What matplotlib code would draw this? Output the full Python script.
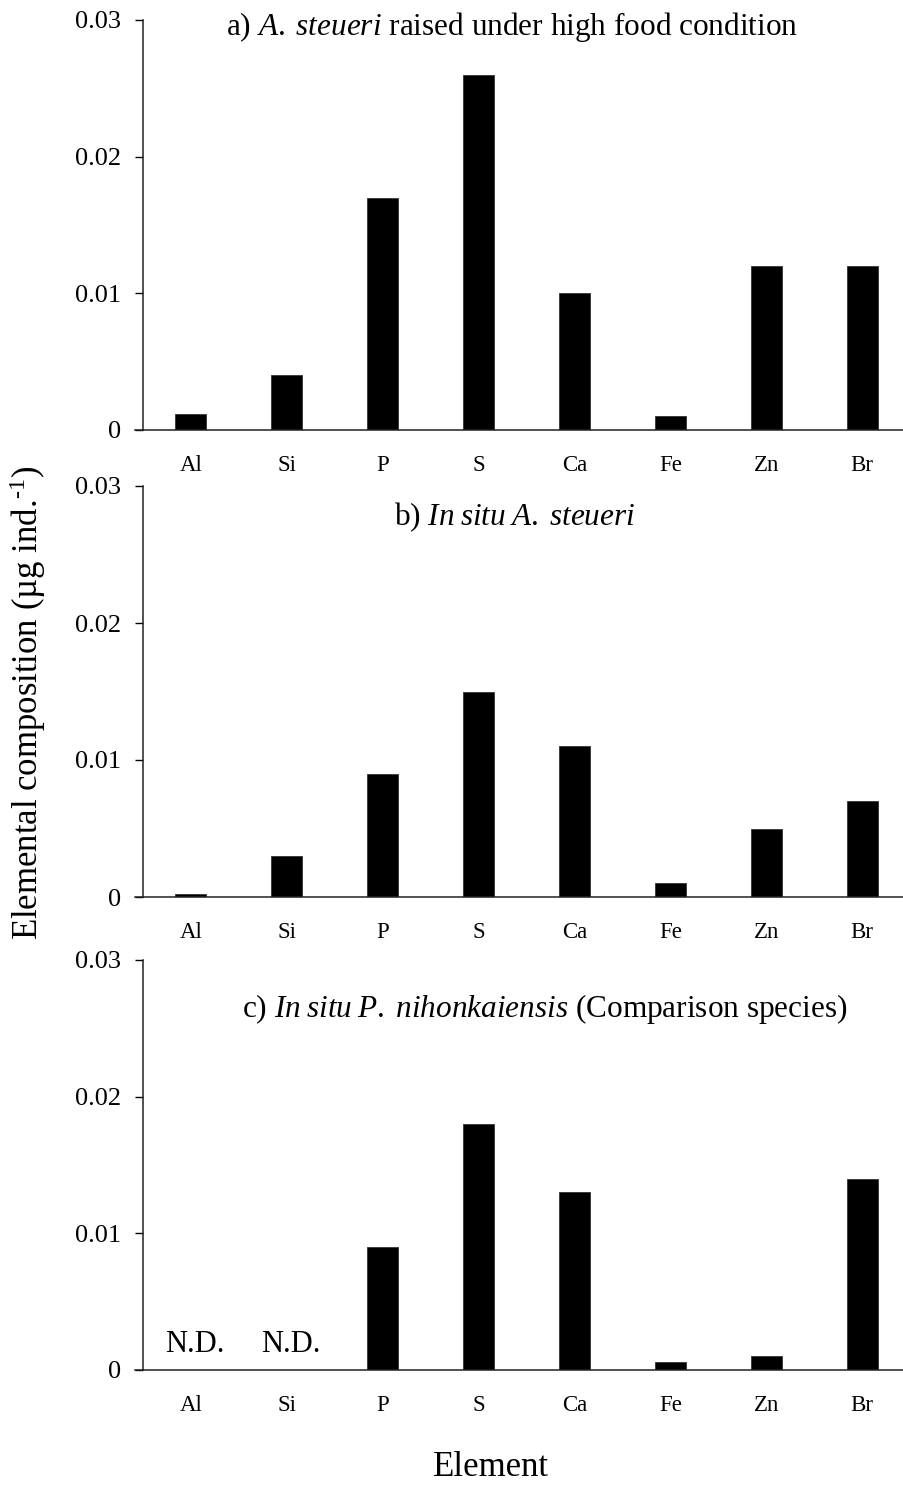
import matplotlib
matplotlib.use("Agg")
import matplotlib.pyplot as plt
import numpy as np

plt.rcParams['font.family'] = ['Liberation Serif', 'DejaVu Serif']
plt.rcParams['mathtext.fontset'] = 'custom'
plt.rcParams['mathtext.rm'] = 'Liberation Serif'
plt.rcParams['mathtext.it'] = 'Liberation Serif:italic'

elements = ["Al", "Si", "P", "S", "Ca", "Fe", "Zn", "Br"]
high_food = [0.0012, 0.004, 0.017, 0.026, 0.010, 0.001, 0.012, 0.012]
in_situ_steueri = [0.0002, 0.003, 0.009, 0.015, 0.011, 0.001, 0.005, 0.007]
in_situ_nihonkaiensis = [0.0, 0.0, 0.009, 0.018, 0.013, 0.0006, 0.001, 0.014]
nd_labels = ["N.D.", "N.D.", "", "", "", "", "", ""]
yticks = [0, 0.01, 0.02, 0.03]
ytick_labels = ["0", "0.01", "0.02", "0.03"]

titles = [
    r"a) $\mathit{A.\;steueri}$ raised under high food condition",
    r"b) $\mathit{In\;situ\;A.\;steueri}$",
    r"c) $\mathit{In\;situ\;P.\;nihonkaiensis}$ (Comparison species)",
]
# (x, y, vertical alignment) in axes fraction
title_pos = [(0.481, 0.983, "center"), (0.485, 0.905, "baseline"), (0.524, 0.861, "baseline")]
series = [high_food, in_situ_steueri, in_situ_nihonkaiensis]

W, H = 904, 1485
fig = plt.figure(figsize=(W / 100, H / 100), dpi=100)

# axes boxes in pixels: left, right, top, bottom
boxes = [(143, 910, 20, 430), (143, 910, 486, 897), (143, 910, 960, 1370)]

x = np.arange(len(elements))
for i, (l, r, t, b) in enumerate(boxes):
    ax = fig.add_axes([l / W, 1 - b / H, (r - l) / W, (b - t) / H])
    ax.bar(x, series[i], width=0.324, color="black", edgecolor="#333333", linewidth=0.6)
    ax.set_xlim(-0.5, len(elements) - 0.5)
    ax.set_ylim(0, 0.03)
    ax.set_yticks(yticks)
    ax.set_yticklabels(ytick_labels, fontsize=19)
    ax.set_xticks(x)
    ax.set_xticklabels(elements, fontsize=16.5)
    ax.tick_params(axis="x", length=0, pad=18)
    ax.tick_params(axis="y", length=6, width=1.0, pad=10, direction="out", colors="black")
    for s in ["top", "right"]:
        ax.spines[s].set_visible(False)
    for s in ["left", "bottom"]:
        ax.spines[s].set_linewidth(1.1)
        ax.spines[s].set_color("#222222")
    ax.spines["bottom"].set_bounds(-0.58, len(elements) - 0.5)
    tx, ty, tva = title_pos[i]
    ax.text(tx, ty, titles[i], transform=ax.transAxes,
            ha="center", va=tva, fontsize=22.5)
    if i == 2:
        for xi, lab in zip(x, nd_labels):
            if lab:
                ax.text(xi + 0.04, 0.0008, lab, ha="center", va="bottom", fontsize=22)

fig.text(28 / W, 1 - 703 / H, "Elemental composition (µg ind.$^{\\mathrm{\u2010}1}$)",
         rotation=90, ha="center", va="center", fontsize=25)
fig.text(491 / W, 1 - 1468 / H, "Element", ha="center", va="center", fontsize=25)

fig.savefig("out.png", dpi=100)
